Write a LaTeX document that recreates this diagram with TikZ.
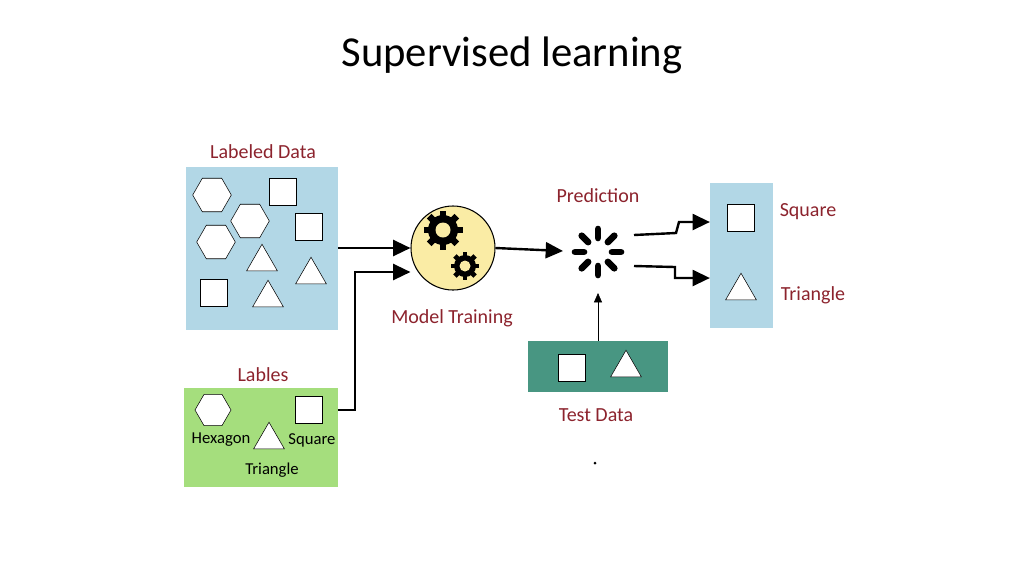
\documentclass[tikz,border=0pt]{standalone}
\usepackage{fontspec}
\setmainfont{Carlito}
\usetikzlibrary{positioning,arrows.meta,shapes.geometric,calc}
\definecolor{lblred}{RGB}{140,35,45}
\definecolor{boxblue}{RGB}{178,215,230}
\definecolor{boxgreen}{RGB}{165,222,125}
\definecolor{boxteal}{RGB}{72,150,130}
\definecolor{modelyellow}{RGB}{250,236,165}
\tikzset{
  lbl/.style={text=lblred,font=\fontsize{15}{15}\selectfont},
  hexa/.style={regular polygon,regular polygon sides=6,draw,fill=white,minimum size=29pt,inner sep=0pt},
  sq/.style={rectangle,draw,fill=white,minimum size=20pt,inner sep=0pt},
  tri/.style={isosceles triangle,isosceles triangle apex angle=60,shape border rotate=90,draw,fill=white,minimum height=20pt,inner sep=0pt},
  flow/.style={line width=1.8pt,-{Triangle[length=13pt,width=12pt]}},
}
\newcommand{\gear}[2]{% centre, radius
  \fill[black] #1 circle[radius=#2];
  \foreach \a in {0,45,...,315}
    \fill[black,rotate around={\a:#1}] ($#1+(-0.22*#2,0)$) rectangle ($#1+(0.22*#2,1.3*#2)$);
  \fill[modelyellow] #1 circle[radius=0.5*#2];}
\begin{document}
\begin{tikzpicture}[x=0.75pt,y=-0.75pt]
\useasboundingbox (0,0) rectangle (1024,576);
\node (title) at (512,55) {\fontsize{32}{32}\selectfont Supervised learning};

% labeled data
\node[fill=boxblue,minimum width=114pt,minimum height=122pt,inner sep=0pt] (data) at (261.5,248.5) {};
\node[lbl] (datalbl) at (263,152) {Labeled Data};
\node[hexa] (h1) at (212,195) {};
\node[hexa] (h2) at (250,221) {};
\node[hexa] (h3) at (216,242) {};
\node[sq] (s1) at (283,192) {};
\node[sq] (s2) at (309,227) {};
\node[sq] (s3) at (214,293) {};
\node[tri] (t1) at (262,262) {};
\node[tri] (t2) at (311,275) {};
\node[tri] (t3) at (268,298) {};

% labels
\node[fill=boxgreen,minimum width=115pt,minimum height=74pt,inner sep=0pt] (labels) at (261,437.5) {};
\node[lbl] (labelslbl) at (263,375) {Lables};
\node[hexa,minimum size=27pt] (lh) at (213,410) {};
\node[tri] (lt) at (269,440) {};
\node[sq] (ls) at (309,410) {};
\node[font=\fontsize{12.5}{12.5}\selectfont] at (221,440) {Hexagon};
\node[font=\fontsize{12.5}{12.5}\selectfont] at (272,470) {Triangle};
\node[font=\fontsize{12.5}{12.5}\selectfont] at (312,440) {Square};

% model
\node[circle,draw,thick,fill=modelyellow,minimum size=63pt] (model) at (453,248) {};
\gear{(443,230)}{15}
\gear{(465,266)}{11}
\node[lbl] (modellbl) at (452,318) {Model Training};

\draw[flow] (data.east |- model) -- (model.west);
\draw[flow] (labels.east |- 0,410) -- (355,410) -- (355,272) -- (model.west |- 0,272);

% prediction
\coordinate (pred) at (598,252);
\foreach \a in {0,45,...,315}
  \draw[line width=5pt,line cap=round,rotate around={\a:(pred)}] ($(pred)+(14,0)$) -- ($(pred)+(23,0)$);
\node[lbl] (predlbl) at (598,196) {Prediction};
\draw[flow] (model.east) -- (563,251);

% test data
\node[fill=boxteal,minimum width=105pt,minimum height=38pt,inner sep=0pt] (test) at (598,366.5) {};
\node[sq] (ts) at (572,368) {};
\node[tri] (tt) at (626,368) {};
\node[lbl] (testlbl) at (596,415) {Test Data};
\fill (595,463) circle[radius=1.5];
\draw[thin,-{Triangle[length=7pt,width=6pt]}] (test.north) -- (598,293);

% output
\node[fill=boxblue,minimum width=47pt,minimum height=109pt,inner sep=0pt] (out) at (741.5,255.5) {};
\node[sq] (os) at (741,218) {};
\node[tri] (ot) at (741,291) {};
\node[lbl] (oslbl) at (808,212) {Square};
\node[lbl] (otlbl) at (813,295) {Triangle};
\draw[flow] (634,235) -- (676,233) -- (679,222) -- (out.west |- 0,222);
\draw[flow] (634,266) -- (675,267) -- (675,278) -- (out.west |- 0,278);
\end{tikzpicture}
\end{document}
